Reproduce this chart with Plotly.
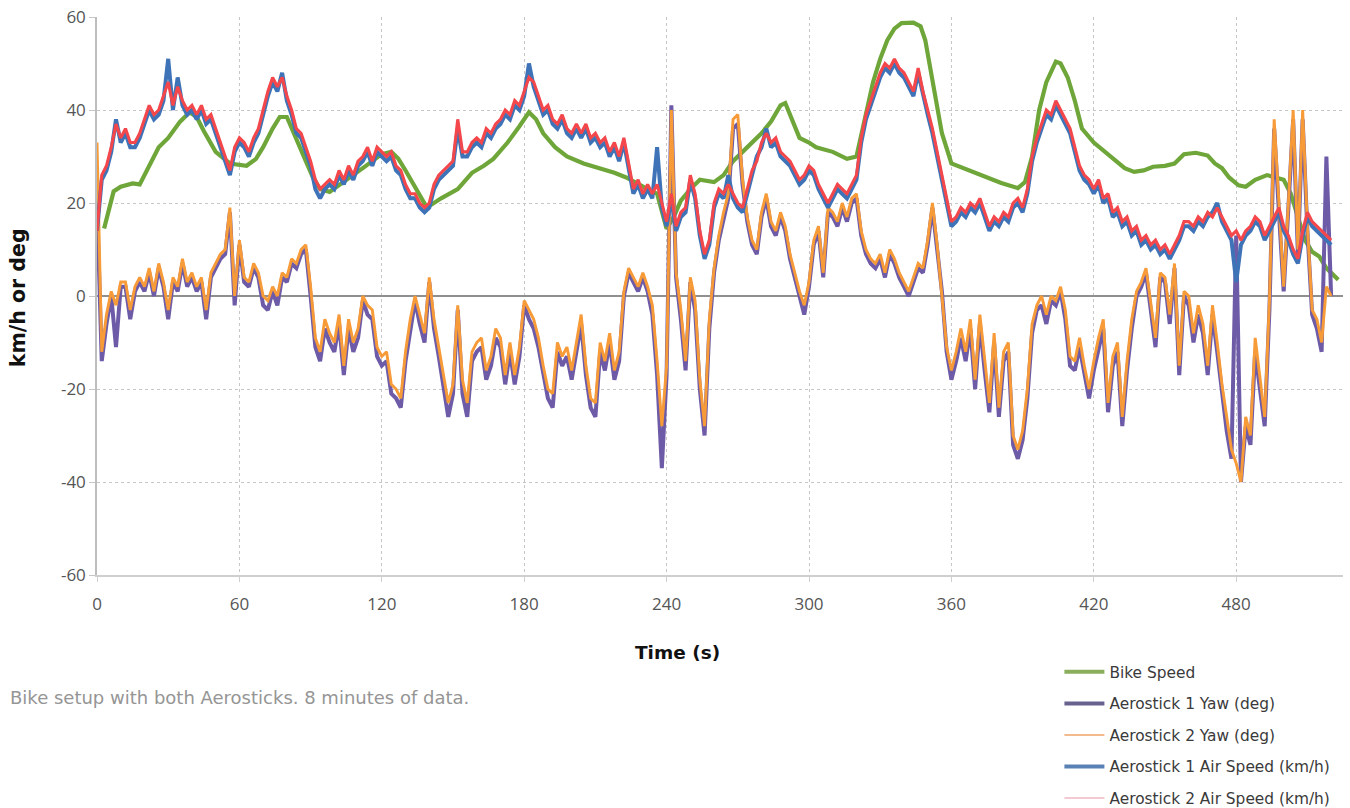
import plotly.graph_objects as go

# Sampling grid for the Aerostick logs (seconds, 2 s step)
t_log = list(range(0, 521, 2))

# Aerostick 2 air speed (km/h)
air2_kmh = [
    14, 26, 28, 32, 37, 34, 36, 33, 33, 35,
    38, 41, 39, 40, 43, 46, 41, 45, 42, 40,
    41, 39, 41, 38, 39, 36, 33, 30, 27, 32,
    34, 33, 31, 34, 36, 40, 44, 47, 45, 47,
    43, 40, 36, 35, 32, 29, 25, 23, 24, 25,
    24, 27, 25, 28, 26, 29, 30, 32, 29, 32,
    31, 30, 31, 28, 27, 24, 22, 22, 20, 19,
    20, 24, 26, 27, 28, 29, 38, 31, 31, 33,
    34, 33, 36, 35, 37, 38, 40, 39, 42, 41,
    44, 47, 46, 43, 40, 41, 38, 37, 39, 36,
    35, 37, 35, 37, 34, 35, 33, 34, 31, 33,
    30, 34, 28, 23, 25, 22, 24, 22, 24, 20,
    16, 22, 15, 18, 19, 26, 22, 14, 9, 12,
    20, 23, 22, 24, 22, 20, 19, 23, 27, 29,
    33, 35, 33, 34, 31, 30, 29, 27, 25, 26,
    28, 27, 24, 22, 20, 22, 24, 23, 22, 24,
    26, 34, 39, 42, 45, 48, 50, 49, 51, 49,
    48, 46, 44, 49, 44, 40, 36, 31, 26, 21,
    16, 17, 19, 18, 20, 19, 21, 18, 15, 17,
    16, 18, 17, 20, 21, 19, 23, 30, 34, 37,
    40, 39, 42, 40, 38, 36, 32, 28, 26, 25,
    23, 25, 21, 22, 18, 19, 16, 17, 14, 15,
    12, 13, 11, 12, 10, 11, 9, 11, 13, 16,
    16, 15, 17, 16, 18, 17, 19, 17, 15, 13,
    14, 12, 14, 15, 17, 16, 13, 15, 17, 19,
    15, 13, 10, 8, 14, 18, 16, 15, 14, 13,
    12,
]

# Aerostick 1 air speed (km/h)
air1_kmh = [
    14, 25, 27, 31, 38, 33, 35, 32, 32, 34,
    37, 40, 38, 39, 42, 51, 40, 47, 41, 39,
    40, 38, 40, 37, 38, 35, 32, 29, 26, 31,
    33, 32, 30, 33, 35, 39, 43, 46, 44, 48,
    42, 39, 35, 34, 31, 28, 23, 21, 23, 24,
    23, 26, 24, 27, 25, 28, 29, 31, 28, 31,
    30, 29, 30, 27, 26, 23, 21, 21, 19, 18,
    19, 23, 25, 26, 27, 28, 36, 30, 30, 32,
    33, 32, 35, 34, 36, 37, 39, 38, 41, 40,
    43, 50, 45, 42, 39, 40, 37, 36, 38, 35,
    34, 36, 34, 36, 33, 34, 32, 33, 30, 32,
    29, 33, 27, 22, 24, 21, 23, 21, 32, 19,
    15, 21, 14, 17, 18, 25, 21, 13, 8, 11,
    19, 22, 21, 26, 21, 19, 18, 22, 26, 30,
    32, 36, 32, 33, 30, 29, 28, 26, 24, 25,
    27, 26, 23, 21, 19, 21, 23, 22, 21, 23,
    25, 33, 38, 41, 44, 47, 49, 48, 50, 48,
    47, 45, 43, 48, 43, 39, 35, 30, 25, 20,
    15, 16, 18, 17, 19, 18, 20, 17, 14, 16,
    15, 17, 16, 19, 20, 18, 22, 29, 33, 36,
    39, 38, 41, 39, 37, 35, 31, 27, 25, 24,
    22, 24, 20, 21, 17, 18, 15, 16, 13, 14,
    11, 12, 10, 11, 9, 10, 8, 10, 12, 15,
    15, 14, 16, 15, 17, 18, 20, 16, 14, 12,
    3, 11, 13, 14, 16, 15, 12, 14, 16, 18,
    14, 12, 9, 7, 13, 17, 15, 14, 13, 12,
    11,
]

# Aerostick 2 yaw (deg)
yaw2_deg = [
    33, -12, -4, 1, -2, 3, 3, -3, 2, 4,
    2, 6, 1, 7, 3, -3, 4, 2, 8, 3,
    5, 2, 4, -3, 5, 7, 9, 10, 19, 0,
    12, 4, 3, 7, 5, 0, -1, 2, 0, 5,
    4, 8, 7, 10, 11, 2, -9, -12, -5, -8,
    -10, -4, -15, -5, -10, -7, 0, -2, -3, -11,
    -13, -12, -19, -20, -22, -12, -5, 0, -4, -8,
    4, -5, -11, -17, -23, -19, -2, -18, -23, -12,
    -10, -9, -16, -13, -7, -9, -17, -10, -17, -11,
    -1, -3, -5, -9, -15, -20, -21, -10, -13, -11,
    -16, -10, -4, -15, -22, -23, -10, -14, -8, -16,
    -12, 1, 6, 4, 2, 5, 2, -2, -14, -28,
    -15, 40, 5, -3, -14, 4, -1, -18, -28, -5,
    6, 13, 18, 22, 38, 39, 25, 17, 12, 10,
    18, 22, 16, 14, 18, 15, 9, 5, 1, -2,
    3, 12, 15, 5, 19, 18, 16, 20, 17, 21,
    22, 14, 10, 8, 7, 9, 5, 10, 8, 5,
    3, 1, 4, 7, 6, 12, 20, 11, 0, -11,
    -16, -12, -7, -12, -5, -18, -4, -14, -23, -8,
    -24, -12, -10, -30, -33, -29, -20, -6, -2, 0,
    -4, 0, -1, 2, -3, -13, -14, -9, -15, -20,
    -14, -9, -5, -23, -13, -10, -26, -14, -5, 1,
    3, 6, -2, -9, 5, 4, -4, 7, -15, 1,
    0, -8, -2, -6, -15, -2, -10, -19, -26, -33,
    -36, -40, -26, -30, -9, -18, -26, -1, 38, 20,
    2, 20, 40, 10, 40, 15, -3, -5, -10, 2,
    0,
]

# Aerostick 1 yaw (deg)
yaw1_deg = [
    20, -14, -6, 0, -11, 2, 2, -5, 1, 3,
    1, 5, 0, 6, 2, -5, 3, 1, 7, 2,
    4, 1, 3, -5, 4, 6, 8, 9, 18, -2,
    11, 3, 2, 6, 4, -2, -3, 1, -2, 4,
    3, 7, 6, 9, 10, 0, -11, -14, -7, -10,
    -12, -6, -17, -7, -12, -9, -1, -4, -5, -13,
    -15, -14, -21, -22, -24, -14, -7, -1, -6, -10,
    3, -7, -13, -19, -26, -21, -3, -21, -26, -14,
    -12, -11, -18, -15, -9, -11, -19, -12, -19, -13,
    -2, -5, -7, -11, -17, -22, -24, -12, -15, -13,
    -18, -12, -6, -17, -24, -26, -12, -16, -10, -18,
    -14, 0, 5, 3, 1, 4, 1, -4, -17, -37,
    -17, 41, 4, -5, -16, 3, -3, -20, -30, -7,
    5, 12, 17, 21, 36, 37, 24, 16, 11, 9,
    17, 21, 15, 13, 17, 14, 8, 4, 0, -4,
    2, 11, 14, 4, 18, 17, 15, 19, 16, 20,
    21, 13, 9, 7, 6, 8, 4, 9, 7, 4,
    2, 0, 3, 6, 5, 11, 19, 10, 1, -12,
    -18, -14, -9, -14, -7, -20, -6, -16, -25, -10,
    -26, -14, -12, -32, -35, -31, -22, -8, -3, -2,
    -6, -1, -2, 1, -5, -15, -16, -11, -17, -22,
    -16, -11, -7, -25, -15, -12, -28, -16, -7, 0,
    2, 5, -3, -11, 4, 3, -6, 6, -17, 0,
    -2, -10, -4, -8, -17, -4, -12, -21, -29, -35,
    13, -40, -28, -32, -12, -20, -28, -3, 36, 18,
    1, 19, 38, 9, 38, 14, -4, -7, -12, 30,
    0,
]

# Bike speed from the head unit (km/h), smoother and sampled irregularly
bike_t = [
    3, 5, 7, 10, 15, 18, 22, 26, 30, 35,
    39, 42, 45, 50, 56, 63, 67, 70, 74, 77,
    80, 84, 88, 91, 94, 98, 104, 108, 112, 116,
    120, 124, 127, 130, 134, 139, 145, 152, 158, 163,
    167, 173, 178, 182, 185, 188, 193, 198, 205, 212,
    218, 223, 228, 232, 236, 240, 243, 246, 250, 254,
    260, 264, 268, 272, 276, 280, 284, 288, 290, 292,
    296, 300, 303, 310, 316, 320, 323, 327, 330, 333,
    336, 339, 344, 347, 349, 351, 353, 356, 360, 364,
    367, 373, 381, 388, 391, 394, 397, 400, 404, 406,
    409, 412, 415, 420, 428, 433, 437, 441, 445, 450,
    454, 458, 463, 468, 471, 474, 477, 481, 484, 488,
    493, 497, 500, 503, 506, 509, 512, 515, 518, 521,
    523,
]
bike_kmh = [
    14.5, 19, 22.5, 23.5, 24.2, 24, 28, 32, 34, 37.5,
    39.5, 38.5, 35.5, 31, 28.5, 28, 29.5, 32, 36, 38.5,
    38.5, 34, 29, 25.5, 23, 22.4, 24.5, 26, 27.5, 29,
    30.5, 31, 29.5, 27, 23.5, 19, 21, 23, 26.5, 28,
    29.5, 33, 36.5, 39.5, 38, 35, 32, 30, 28.5, 27.5,
    26.5, 25.5, 24, 23, 22, 14.5, 17, 20.5, 23, 25,
    24.5, 26, 29, 31, 33, 35, 37.5, 41, 41.5, 39,
    34, 33, 32, 31, 29.5, 30, 37, 46, 51, 55,
    57.5, 58.7, 58.8, 58, 55, 49, 43, 35, 28.5, 27.7,
    27, 25.8, 24.3, 23.2, 24.5, 30, 40, 46, 50.4, 50,
    47, 42, 36, 33, 29.5, 27.5, 26.7, 27, 27.8, 28,
    28.5, 30.5, 30.8, 30.2, 28.5, 27.5, 25.5, 23.8, 23.5, 25,
    26, 25.5, 25, 22, 17, 12, 9.5, 8.5, 6, 4.5,
    3.5,
]

x_ticks = [0, 60, 120, 180, 240, 300, 360, 420, 480]
y_ticks = [-60, -40, -20, 0, 20, 40, 60]
y_tick_text = ["-60", "-40", "-20", "0", "20", "40", "60"]

legend_names = [
    "Bike Speed",
    "Aerostick 1 Yaw (deg)",
    "Aerostick 2 Yaw (deg)",
    "Aerostick 1 Air Speed (km/h)",
    "Aerostick 2 Air Speed (km/h)",
]

fig = go.Figure()

# Data lines (drawn bottom to top in series order)
series = [
    (bike_t, bike_kmh, "#6FA63A", 4.2),
    (t_log, yaw1_deg, "#6E5BA8", 4.0),
    (t_log, yaw2_deg, "#F79A38", 2.9),
    (t_log, air1_kmh, "#3E73B8", 4.0),
    (t_log, air2_kmh, "#F4474B", 3.1),
]
for (xs, ys, color, width), name in zip(series, legend_names):
    fig.add_trace(go.Scatter(
        x=xs, y=ys, mode="lines", name=name, showlegend=False,
        line=dict(color=color, width=width), hoverinfo="skip",
    ))

# Legend keys
legend_styles = [
    ("#8BAE5C", 4),
    ("#68628F", 4),
    ("#F3BA8E", 2),
    ("#5981B4", 4),
    ("#F1B9C3", 1.6),
]
for i, (name, (color, width)) in enumerate(zip(legend_names, legend_styles)):
    fig.add_trace(go.Scatter(
        x=[None], y=[None], mode="lines", name=name, legendgroup=f"g{i}",
        line=dict(color=color, width=width), showlegend=True,
    ))

tick_font = dict(family="Open Sans, sans-serif", size=17, color="#555555")
title_font = dict(family="DejaVu Sans, sans-serif", size=18.5, color="#111111")

fig.update_layout(
    width=1350, height=808,
    margin=dict(l=97, r=7, t=17, b=233, autoexpand=False),
    paper_bgcolor="white", plot_bgcolor="white",
    showlegend=True,
    legend=dict(
        x=0.7724, y=-0.144, xanchor="left", yanchor="top",
        traceorder="grouped", tracegroupgap=8.5,
        font=dict(family="DejaVu Sans, sans-serif", size=15.4, color="#3a3a3a"),
        bgcolor="rgba(0,0,0,0)", itemwidth=40,
    ),
    xaxis=dict(
        range=[0, 525], tickvals=x_ticks, tickfont=tick_font,
        showgrid=True, gridcolor="#c6c6c6", griddash="dot", gridwidth=1,
        showline=True, linecolor="#cfcfcf", linewidth=1.5,
        ticks="outside", ticklen=5, tickcolor="#cfcfcf",
        ticklabelstandoff=8, zeroline=False,
    ),
    yaxis=dict(
        range=[-60, 60], tickvals=y_ticks, ticktext=y_tick_text,
        tickfont=tick_font,
        showgrid=True, gridcolor="#c6c6c6", griddash="dot", gridwidth=1,
        showline=True, linecolor="#bdbdbd", linewidth=1.5,
        ticks="outside", ticklen=6, tickcolor="#c6c6c6",
        zeroline=True, zerolinecolor="#8f8f8f", zerolinewidth=1.5,
    ),
    annotations=[
        dict(text="<b>Time (s)</b>", xref="paper", yref="paper",
             x=0.4655, y=-0.138, xanchor="center", yanchor="middle",
             showarrow=False, font=title_font),
        dict(text="<b>km/h or deg</b>", xref="paper", yref="paper",
             x=-0.0634, y=0.496, xanchor="center", yanchor="middle",
             textangle=-90, showarrow=False,
             font=dict(family="DejaVu Sans, sans-serif", size=20.5,
                       color="#111111")),
        dict(text="Bike setup with both Aerosticks. 8 minutes of data.",
             xref="paper", yref="paper", x=-0.0714, y=-0.2204,
             xanchor="left", yanchor="middle", showarrow=False,
             font=dict(family="DejaVu Sans, sans-serif", size=18,
                       color="#959595")),
    ],
)

fig.write_html("out.html")
